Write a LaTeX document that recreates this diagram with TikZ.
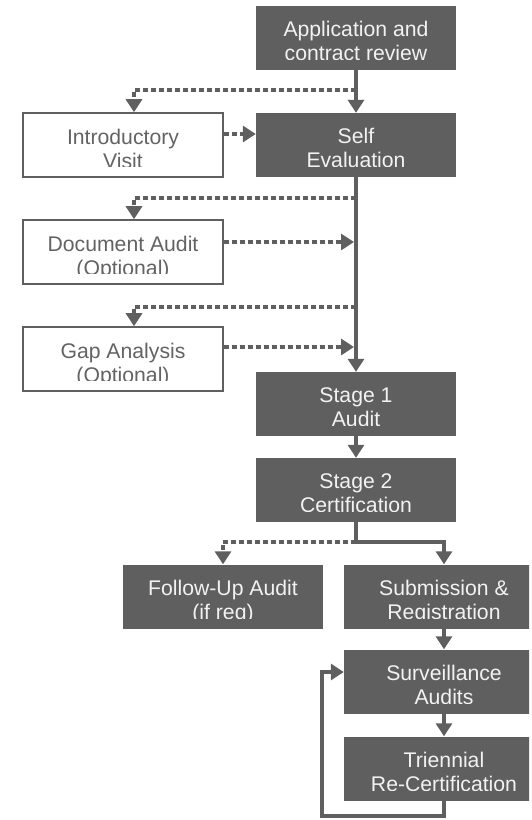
\documentclass[tikz,border=0pt]{standalone}
\usepackage{fontspec}
\setmainfont{Liberation Sans}
\usetikzlibrary{arrows.meta}
\definecolor{boxgray}{HTML}{5F5F5F}
\definecolor{txtgray}{HTML}{636363}

\begin{document}
\begin{tikzpicture}[x=1pt, y=-1pt,
  label text/.style={anchor=north, inner sep=0pt, align=center,
    minimum width=0pt, minimum height=0pt,
    font=\fontsize{21.2}{24}\selectfont},
  box/.style 2 args={minimum width=200pt, minimum height=64pt, inner sep=0pt,
    path picture={
      \clip (path picture bounding box.north west) rectangle
        ([yshift=10.5pt]path picture bounding box.south east);
      \node [label text, text=#1] at ([yshift=-15pt]path picture bounding box.north) {#2};}},
  dark/.style={fill=boxgray, box={white!95!black}{#1}},
  light/.style={draw=boxgray, line width=1.6pt, fill=white, box={txtgray}{#1}},
  flow/.style={draw=boxgray, line width=3.2pt, -{Triangle[width=16pt,length=13pt]}},
  opt/.style={flow, dash pattern=on 5pt off 3pt}]
  \useasboundingbox (0,0) rectangle (531,820);
  \clip (0,0) rectangle (529,820);

  \node [dark={Application and\\contract review}] (app) at (356,38) {};
  \node [dark={Self\\Evaluation}] (self) at (356,145) {};
  \node [light={Introductory\\Visit}] (intro) at (123,145) {};
  \node [light={Document Audit\\(Optional)}] (doc) at (123,252) {};
  \node [light={Gap Analysis\\(Optional)}] (gap) at (123,359) {};
  \node [dark={Stage 1\\Audit}] (stage1) at (356,404) {};
  \node [dark={Stage 2\\Certification}] (stage2) at (356,490) {};
  \node [dark={Follow-Up Audit\\(if req)}] (followup) at (223,596.5) {};
  \node [dark={Submission \&\\Registration}] (submit) at (444,596.5) {};
  \node [dark={Surveillance\\Audits}] (surv) at (444,681.5) {};
  \node [dark={Triennial\\Re-Certification}] (recert) at (444,768.5) {};

  \coordinate (fork1) at (356,90);
  \coordinate (fork2) at (356,198);
  \coordinate (join2) at (354,242);
  \coordinate (fork3) at (356,307);
  \coordinate (join3) at (354,347);
  \coordinate (fork4) at (356,542);
  \coordinate (loop) at (322,816);

  \draw [flow] (app) -- (self);
  \draw [flow] (self) -- (stage1);
  \draw [flow] (stage1) -- (stage2);
  \draw [opt] (fork1) -| ([xshift=11pt]intro.north);
  \draw [opt] ([yshift=11pt]intro.east) -- ([yshift=11pt]self.west);
  \draw [opt] (fork2) -| ([xshift=11pt]doc.north);
  \draw [opt] ([yshift=10pt]doc.east) -- (join2);
  \draw [opt] (fork3) -| ([xshift=11pt]gap.north);
  \draw [opt] ([yshift=12pt]gap.east) -- (join3);
  \draw [flow] (stage2) -- (fork4) -| (submit);
  \draw [opt] (fork4) -| (followup);
  \draw [flow] (submit) -- (surv);
  \draw [flow] (surv) -- (recert);
  \draw [flow] (recert) |- (loop) |- ([yshift=9.5pt]surv.west);
\end{tikzpicture}
\end{document}
